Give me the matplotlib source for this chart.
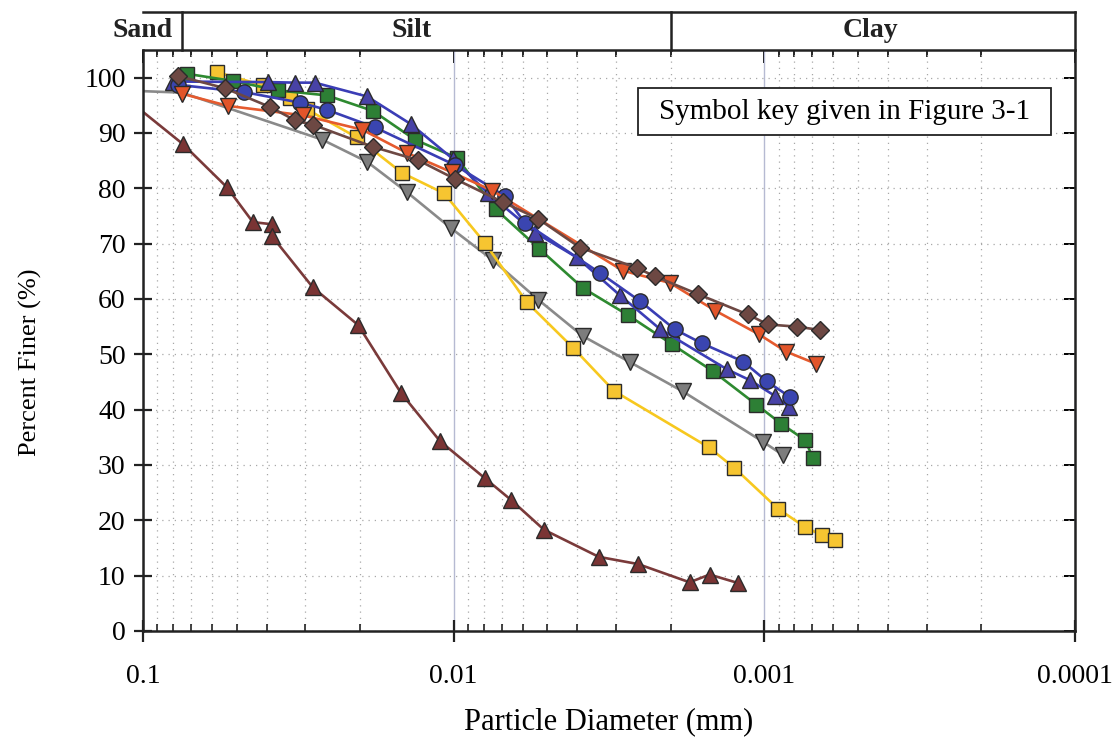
import numpy as np
import matplotlib
matplotlib.use("Agg")
import matplotlib.pyplot as plt
from matplotlib.ticker import FixedLocator, NullFormatter, LogLocator
from matplotlib.patches import Rectangle
import matplotlib.transforms as mtransforms

plt.rcParams['font.family'] = ['Liberation Serif', 'DejaVu Serif']

# particle diameter (mm) and percent finer for each hydrometer test
tri_brown_d = [0.125, 0.0744, 0.0537, 0.0443, 0.0384, 0.0384, 0.0284, 0.0203, 0.01477,
               0.01106, 0.00793, 0.00654, 0.00512, 0.00341, 0.00255, 0.00174, 0.00150, 0.00122]
tri_brown_p = [98.2, 88.0, 80.2, 73.9, 73.5, 71.3, 62.1, 55.3, 43.0,
               34.3, 27.6, 23.7, 18.3, 13.4, 12.1, 8.8, 10.2, 8.7]

gray_d = [0.13, 0.075, 0.0265, 0.0190, 0.01413, 0.01020, 0.00747, 0.00535, 0.00384,
          0.00271, 0.00183, 0.00101, 0.000871]
gray_p = [97.8, 97.3, 88.8, 84.8, 79.3, 72.8, 67.0, 59.9, 53.3,
          48.6, 43.3, 34.2, 31.8]

yellow_d = [0.0578, 0.0411, 0.0336, 0.0297, 0.0205, 0.01467, 0.01074, 0.00793, 0.00581,
            0.00413, 0.00305, 0.00151, 0.00125, 0.000904, 0.000740, 0.000653, 0.000593]
yellow_p = [101.0, 98.6, 96.3, 94.3, 89.2, 82.8, 79.1, 70.1, 59.4,
            51.2, 43.4, 33.2, 29.5, 22.1, 18.8, 17.3, 16.4]

green_d = [0.0722, 0.0513, 0.0368, 0.0256, 0.0182, 0.01333, 0.00976, 0.00731, 0.00531,
           0.00384, 0.00275, 0.00198, 0.00146, 0.00106, 0.000884, 0.000740, 0.000697]
green_p = [100.7, 99.4, 97.7, 96.8, 94.0, 88.8, 85.5, 76.2, 69.1,
           62.0, 57.1, 51.8, 46.9, 40.9, 37.5, 34.5, 31.3]

tri_blue_d = [0.0801, 0.0396, 0.0324, 0.0280, 0.0190, 0.01373, 0.01005, 0.00775, 0.00547,
              0.00401, 0.00292, 0.00217, 0.00132, 0.00111, 0.000925, 0.000833]
tri_blue_p = [99.3, 99.2, 99.1, 99.1, 96.6, 91.6, 85.3, 79.1, 72.0,
              67.5, 60.7, 54.6, 47.3, 45.3, 42.5, 40.5]

circ_d = [0.0771, 0.0473, 0.0313, 0.0256, 0.0179, 0.00990, 0.00684, 0.00590, 0.00338,
          0.00251, 0.00194, 0.00159, 0.00117, 0.000981, 0.000827]
circ_p = [98.7, 97.4, 95.5, 94.2, 91.0, 84.2, 78.6, 73.8, 64.7,
          59.6, 54.5, 52.0, 48.7, 45.1, 42.3]

orange_d = [0.0749, 0.0533, 0.0306, 0.0197, 0.01413, 0.01013, 0.00752, 0.00285, 0.00201,
            0.00144, 0.00104, 0.000851, 0.000682]
orange_p = [97.1, 94.9, 93.2, 90.6, 86.4, 82.9, 79.6, 65.1, 62.9,
            57.9, 53.6, 50.5, 48.3]

diam_d = [0.0771, 0.0545, 0.0390, 0.0324, 0.0284, 0.0182, 0.01303, 0.00990, 0.00694,
          0.00535, 0.00392, 0.00257, 0.00225, 0.00164, 0.00113, 0.000974, 0.000785, 0.000662]
diam_p = [100.3, 98.1, 94.7, 92.3, 91.5, 87.5, 85.1, 81.7, 77.5,
          74.5, 69.3, 65.6, 64.1, 60.9, 57.2, 55.4, 55.0, 54.4]

x_ticks = [0.1, 0.01, 0.001, 0.0001]
x_labels = ['0.1', '0.01', '0.001', '0.0001']
y_ticks = list(range(0, 101, 10))

# soil class boundaries (mm)
sand_silt = 0.075
silt_clay = 0.002

series = [
    (tri_brown_d, tri_brown_p, '^', '#7a3434', '#7a3a3a', 12),
    (gray_d, gray_p, 'v', '#7d7d7d', '#8a8a8a', 12),
    (yellow_d, yellow_p, 's', '#f6c531', '#f7c81f', 10),
    (green_d, green_p, 's', '#2d7f35', '#2e8a30', 10),
    (tri_blue_d, tri_blue_p, '^', '#4842a6', '#3b3db6', 12),
    (circ_d, circ_p, 'o', '#3a45b0', '#3a3eb4', 11),
    (orange_d, orange_p, 'v', '#e2552a', '#e55a2e', 12),
    (diam_d, diam_p, 'D', '#6d4843', '#6d4843', 9.5),
]

fig = plt.figure(figsize=(11.19, 7.40), dpi=100)
ax = fig.add_axes([143 / 1119, 109 / 740, 932 / 1119, 581 / 740])

for d, p, mk, fc, lc, ms in series:
    ax.plot(d, p, color=lc, lw=1.9, marker=mk, ms=ms, mfc=fc, mec='#2b2b2b', mew=1.0)

ax.set_xscale('log')
ax.set_xlim(0.1, 0.0001)
ax.set_ylim(0, 105)

ax.xaxis.set_major_locator(FixedLocator(x_ticks))
ax.set_xticklabels(x_labels)
ax.xaxis.set_minor_formatter(NullFormatter())
ax.set_yticks(y_ticks)

ax.grid(which='minor', axis='x', ls=(0, (1, 4)), color='#a8a8a8', lw=0.9)
ax.grid(which='major', axis='x', ls='-', color='#b6bad2', lw=1.0)
ax.grid(which='major', axis='y', ls=(0, (1, 4)), color='#a8a8a8', lw=0.9)
ax.set_axisbelow(True)

for s in ax.spines.values():
    s.set_linewidth(1.8)
    s.set_color('#222222')

ax.tick_params(axis='y', which='major', direction='inout', length=13, width=1.6,
               labelsize=20, pad=6, color='#222222')
ax.tick_params(axis='x', which='major', direction='inout', length=16, width=1.6,
               labelsize=20, pad=16, color='#222222')
ax.tick_params(axis='x', which='minor', direction='in', length=5, width=1.2,
               color='#222222')

# inward ticks on the top and right edges
top = ax.secondary_xaxis('top')
top.xaxis.set_major_locator(FixedLocator(x_ticks))
top.xaxis.set_minor_locator(LogLocator(base=10, subs=np.arange(2, 10)))
top.tick_params(which='major', direction='in', length=9, width=1.4, labeltop=False)
top.tick_params(which='minor', direction='in', length=5, width=1.2)
top.xaxis.set_minor_formatter(NullFormatter())
top.spines['top'].set_visible(False)

right = ax.secondary_yaxis('right')
right.set_yticks(y_ticks)
right.tick_params(direction='in', length=8, width=1.4, labelright=False)
right.spines['right'].set_visible(False)

ax.set_xlabel('Particle Diameter (mm)', fontsize=22)
ax.xaxis.set_label_coords(0.5, -0.132)
ax.set_ylabel('Percent Finer (%)', fontsize=19)
ax.yaxis.set_label_coords(-0.108, 0.463)

# soil classification band above the plot
trans = mtransforms.blended_transform_factory(ax.transData, ax.transAxes)
band_top = 1.066
ax.plot([0.1, 0.0001], [band_top, band_top], transform=trans, color='#222222',
        lw=1.8, clip_on=False)
for xb in [sand_silt, silt_clay, 0.0001]:
    ax.plot([xb, xb], [1.0, band_top], transform=trans, color='#222222',
            lw=1.8, clip_on=False)

for label, xc in [('Sand', 0.0), ('Silt', 0.2886), ('Clay', 0.780)]:
    ax.text(xc, 1.033, label, transform=ax.transAxes, ha='center', va='center',
            fontsize=20, fontweight='bold', color='#222222')

# note box pointing to the symbol key
ax.add_patch(Rectangle((0.531, 0.854), 0.443, 0.081, transform=ax.transAxes,
                       fc='white', ec='#222222', lw=1.3, zorder=5))
ax.text(0.7526, 0.8941, 'Symbol key given in Figure 3-1', transform=ax.transAxes,
        ha='center', va='center', fontsize=21, zorder=6)

fig.savefig('out.png', dpi=100)
